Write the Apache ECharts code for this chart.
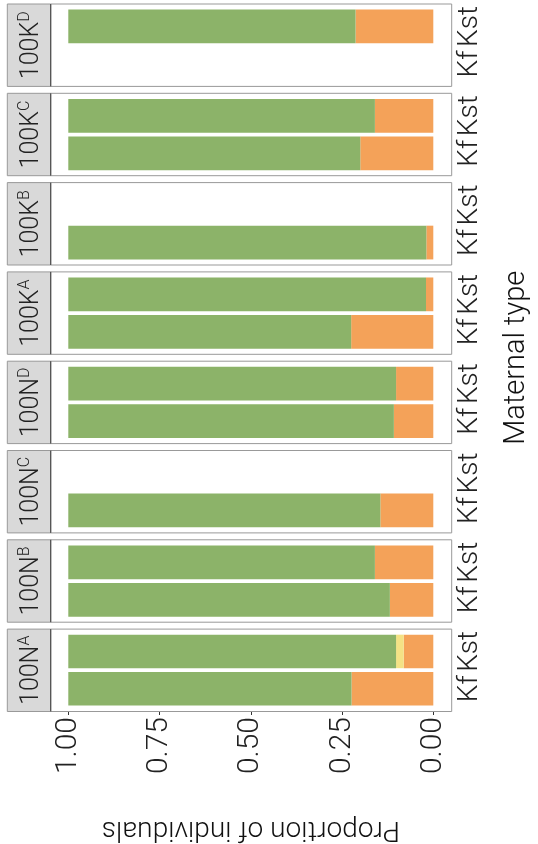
<!DOCTYPE html>
<html>
<head>
<meta charset="utf-8">
<script src="https://cdn.jsdelivr.net/npm/echarts@6/dist/echarts.min.js"></script>
<style>
  html, body { margin: 0; padding: 0; background: #fff; }
  #chart { width: 538px; height: 844px; }
</style>
</head>
<body>
<div id="chart"></div>
<script>
// facets as drawn, top to bottom
const facetBase = ['100K', '100K', '100K', '100K', '100N', '100N', '100N', '100N'];
const facetSup = ['D', 'C', 'B', 'A', 'D', 'C', 'B', 'A'];
const materalTypes = ['Kf', 'Kst'];
// proportions per facet, [Kf, Kst]; null = no bar
const orangeVals = [[null, 0.213], [0.200, 0.160], [0.019, null], [0.225, 0.020], [0.108, 0.102], [0.145, null], [0.119, 0.160], [0.224, 0.081]];
const yellowVals = [[null, 0], [0, 0], [0, null], [0, 0], [0, 0], [0, null], [0, 0], [0, 0.021]];
const greenVals = [[null, 0.787], [0.800, 0.840], [0.981, null], [0.775, 0.980], [0.892, 0.898], [0.855, null], [0.881, 0.840], [0.776, 0.898]];

const FONT = 'Roboto';
const PANEL_TOP = 4, PITCH = 89.3, PANEL_H = 82.4;
const STRIP_L = 7.3, PANEL_L = 50.7, PANEL_R = 451.7;
const PLOT_L = 68.3, PLOT_W = 365;
const INSET = 3.7;
const n = facetBase.length;

const grids = [], xAxes = [], yAxes = [], series = [], graphics = [];
for (let i = 0; i < n; i++) {
    const top = PANEL_TOP + i * PITCH;
    const last = i === n - 1;
    grids.push({left: PLOT_L, width: PLOT_W, top: top + INSET, height: PANEL_H - 2 * INSET});
    xAxes.push({
        type: 'value', gridIndex: i, min: 0, max: 1, interval: 0.25, inverse: true,
        offset: INSET,
        axisLine: {show: false},
        axisTick: {show: last, length: 4, lineStyle: {color: '#333'}},
        axisLabel: {
            show: last, rotate: 90, fontSize: 30, fontFamily: FONT, fontWeight: 300,
            color: '#222', margin: 6,
            formatter: v => v.toFixed(2)
        },
        splitLine: {show: false},
        name: last ? 'Proportion of individuals' : '',
        nameLocation: 'middle', nameRotate: 180, nameGap: 104,
        nameTextStyle: {fontSize: 28, fontFamily: FONT, fontWeight: 300, color: '#111'}
    });
    yAxes.push({
        type: 'category', gridIndex: i, data: materalTypes, position: 'right',
        offset: PANEL_R - (PLOT_L + PLOT_W),
        axisLine: {show: false},
        axisTick: {alignWithLabel: true, interval: 0, length: 3, lineStyle: {color: '#333'}},
        axisLabel: {
            interval: 0, hideOverlap: false, rotate: 90, fontSize: 28,
            fontFamily: FONT, fontWeight: 300, color: '#222', margin: 4
        }
    });
    [[orangeVals, '#F4A259'], [yellowVals, '#F4E285'], [greenVals, '#8CB369']].forEach(([vals, color]) => {
        series.push({
            type: 'bar', xAxisIndex: i, yAxisIndex: i, stack: 'p' + i,
            data: vals[i], barCategoryGap: '10%', silent: true,
            itemStyle: {color: color}
        });
    });
    graphics.push({
        type: 'rect', shape: {x: PANEL_L, y: top, width: PANEL_R - PANEL_L, height: PANEL_H},
        style: {fill: 'none', stroke: '#999', lineWidth: 1}, z: 10
    });
    graphics.push({
        type: 'rect', shape: {x: STRIP_L, y: top, width: PANEL_L - STRIP_L, height: PANEL_H},
        style: {fill: '#D9D9D9', stroke: '#999', lineWidth: 1}, z: 10
    });
    graphics.push({
        type: 'line', shape: {x1: PANEL_L, y1: top, x2: PANEL_L, y2: top + PANEL_H},
        style: {stroke: '#444', lineWidth: 1}, z: 11
    });
    graphics.push({
        type: 'text', x: 32, y: top + PANEL_H / 2, rotation: Math.PI / 2, z: 12,
        style: {
            text: '{b|' + facetBase[i] + '}{s|' + facetSup[i] + '}',
            align: 'center', verticalAlign: 'middle',
            rich: {
                b: {fontSize: 25, fontFamily: FONT, fontWeight: 300, fill: '#222', lineHeight: 30},
                s: {fontSize: 16, fontFamily: FONT, fontWeight: 300, fill: '#222', verticalAlign: 'top', lineHeight: 30}
            }
        }
    });
}
graphics.push({
    type: 'text', x: 517, y: (PANEL_TOP + (n - 1) * PITCH + PANEL_H + PANEL_TOP) / 2,
    rotation: Math.PI / 2, z: 12,
    style: {
        text: 'Maternal type', align: 'center', verticalAlign: 'middle',
        fontSize: 29, fontFamily: FONT, fontWeight: 300, fill: '#111'
    }
});

const myChart = echarts.init(document.getElementById('chart'));
myChart.setOption({
    animation: false,
    backgroundColor: '#fff',
    grid: grids,
    xAxis: xAxes,
    yAxis: yAxes,
    series: series,
    graphic: graphics
});
</script>
</body>
</html>
